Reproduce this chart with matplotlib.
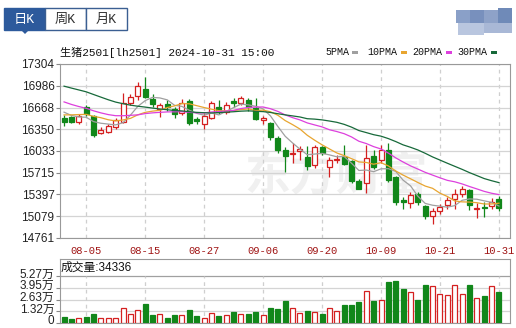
import matplotlib
matplotlib.use("Agg")
import matplotlib.pyplot as plt
from matplotlib.patches import Rectangle, Polygon
from matplotlib.transforms import ScaledTranslation
import numpy as np
import pandas as pd

# daily OHLC for lh2501, 2024-07-31 .. 2024-10-31 (60 sessions)
opens = [16520, 16530, 16460, 16680, 16540, 16300, 16310, 16380, 16460, 16740,
         16830, 16940, 16790, 16640, 16720, 16640, 16590, 16770, 16500, 16420,
         16520, 16680, 16600, 16760, 16740, 16780, 16660, 16490, 16440, 16220,
         16050, 15990, 16030, 15940, 15830, 16090, 15800, 15900, 15940, 15880,
         15600, 15560, 15960, 15900, 16040, 15650, 15310, 15270, 15400, 15230,
         15080, 15150, 15250, 15330, 15410, 15460, 15180, 15220, 15230, 15330]
highs = [16560, 16545, 16580, 16700, 16560, 16380, 16420, 16510, 16880, 16860,
         17040, 17110, 16860, 16740, 16780, 16680, 16790, 16790, 16530, 16590,
         16770, 16780, 16750, 16810, 16840, 16800, 16800, 16550, 16460, 16250,
         16090, 16150, 16100, 16100, 16120, 16110, 15950, 15970, 16120, 15900,
         15620, 16120, 16040, 16120, 16150, 15660, 15360, 15440, 15440, 15240,
         15200, 15260, 15360, 15480, 15520, 15480, 15270, 15280, 15350, 15380]
lows = [16400, 16440, 16420, 16540, 16240, 16280, 16300, 16360, 16440, 16700,
        16780, 16800, 16680, 16530, 16620, 16520, 16560, 16410, 16420, 16360,
        16500, 16580, 16580, 16670, 16700, 16620, 16480, 16420, 16200, 16000,
        15720, 15860, 15900, 15760, 15790, 15980, 15650, 15850, 15830, 15560,
        15470, 15420, 15770, 15850, 15580, 15240, 15180, 15200, 15240, 15040,
        14960, 15110, 15180, 15180, 15360, 15170, 15050, 15070, 15180, 15160]
closes = [16460, 16460, 16540, 16580, 16270, 16340, 16400, 16480, 16740, 16820,
          16980, 16820, 16720, 16700, 16680, 16580, 16740, 16440, 16470, 16550,
          16740, 16600, 16700, 16740, 16810, 16680, 16500, 16510, 16230, 16040,
          15960, 16010, 16060, 15820, 16090, 16010, 15900, 15920, 15840, 15600,
          15480, 15930, 15800, 16050, 15610, 15280, 15290, 15390, 15290, 15080,
          15150, 15220, 15320, 15400, 15470, 15250, 15200, 15200, 15290, 15200]
volumes = [7060, 4150, 5270, 7060, 10100, 5270, 5270, 5270, 16500, 10100,
           14600, 21300, 9000, 10100, 6000, 9000, 9000, 14600, 7850, 6000,
           10900, 7850, 9000, 12000, 9700, 10100, 12000, 9000, 16500, 15300,
           24700, 16500, 10900, 13400, 12700, 10100, 16500, 13400, 20200, 20200,
           23200, 36200, 24700, 25800, 45600, 47100, 38100, 34400, 25800, 42600,
           41500, 32500, 31400, 42600, 32500, 42600, 28400, 30300, 41500, 34336]
# closes before the window, only used so the moving averages start right
earlier_closes = [17300, 17350, 17400, 17450, 17500, 17550, 17500, 17450, 17450, 17450,
                  17200, 17150, 17100, 17000, 16950, 16900, 16800, 16750, 16700, 16850,
                  16450, 16500, 16550, 16560, 16540, 16700, 16650, 16600, 16590]

date_ticks = [3, 11, 19, 27, 35, 43, 51, 59]
date_labels = ["08-05", "08-15", "08-27", "09-06", "09-20", "10-09", "10-21", "10-31"]
price_ticks = [14761, 15079, 15397, 15715, 16033, 16350, 16668, 16986, 17304]
vol_ticks = [0, 13180, 26350, 39530, 52700]
vol_labels = ["0", "1.32万", "2.63万", "3.95万", "5.27万"]
ma_windows = [5, 10, 20, 30]
ma_colors = ["#a0a0a0", "#e8a530", "#dd40dd", "#17693a"]

RED = "#d42020"
GREEN = "#11871a"
W, H = 516, 328
MONO = ["Liberation Mono", "Noto Sans CJK SC"]
SANS = ["Liberation Sans", "Noto Sans CJK SC"]


def px_rect(x0, y0, x1, y1):
    return [x0 / W, 1 - y1 / H, (x1 - x0) / W, (y1 - y0) / H]


fig = plt.figure(figsize=(W / 100, H / 100), dpi=100)
fig.patch.set_facecolor("white")

# header: tabs, title and MA legend drawn in pixel coordinates
bg = fig.add_axes([0, 0, 1, 1])
bg.set_xlim(0, W)
bg.set_ylim(H, 0)
bg.axis("off")
bg.add_patch(Rectangle((4, 8), 41, 22, facecolor="#2d5a9c", edgecolor="#2d5a9c", lw=1))
bg.add_patch(Rectangle((45, 8), 41, 22, facecolor="white", edgecolor="#3b5f92", lw=1))
bg.add_patch(Rectangle((86, 8), 41, 22, facecolor="white", edgecolor="#3b5f92", lw=1))
bg.add_patch(Polygon([(21, 30), (29, 30), (25, 34)], closed=True, facecolor="#2d5a9c", edgecolor="none"))
bg.text(24.5, 19.5, "日K", color="white", fontsize=9.5, ha="center", va="center", family=MONO)
bg.text(65.5, 19.5, "周K", color="#333333", fontsize=9.5, ha="center", va="center", family=MONO)
bg.text(106.5, 19.5, "月K", color="#333333", fontsize=9.5, ha="center", va="center", family=MONO)
# blurred logo block top right
for (x, y, w, h, c) in [(456, 10, 14, 13, "#8aa0c8"), (470, 10, 14, 13, "#7890bd"),
                        (484, 10, 14, 13, "#8ea2c8"), (498, 8, 14, 15, "#6f8ab8"),
                        (458, 23, 26, 12, "#b9c6df"), (484, 23, 28, 10, "#a9b8d6")]:
    bg.add_patch(Rectangle((x, y), w, h, facecolor=c, edgecolor="none"))

bg.text(60, 52, "生猪2501[lh2501] 2024-10-31 15:00", fontsize=8, va="center", family=MONO, color="#111111")
leg_x = [325, 367, 412, 457]
for lx, n, c in zip(leg_x, ma_windows, ma_colors):
    t = "%dPMA" % n
    bg.text(lx, 52, t, fontsize=7.2, va="center", family=MONO, color="#111111")
    rx = lx + len(t) * 6.1 + 3
    bg.add_patch(Rectangle((rx, 50.5), 6, 3, facecolor=c, edgecolor="none"))

# main candlestick panel
ax = fig.add_axes(px_rect(60, 64, 510, 238))
x = np.arange(len(closes))
ax.set_xlim(-0.55, 60.5)
ax.set_ylim(price_ticks[0], price_ticks[-1])
ax.text(24.5, 15640, "东方财富", fontsize=33, color="#f0f0f0", ha="left", va="center",
        family=["Noto Sans CJK SC"], weight="bold", zorder=0)

all_closes = pd.Series(earlier_closes + closes)
for n, c in zip(ma_windows, ma_colors):
    ma = all_closes.rolling(n).mean().values[len(earlier_closes):]
    ax.plot(x, ma, color=c, lw=0.9, zorder=4)

o = np.array(opens)
cl = np.array(closes)
up = cl >= o
colors = np.where(up, RED, GREEN)
ax.vlines(x, lows, highs, colors=colors, lw=0.9, zorder=2)
body_lo = np.minimum(o, cl)
body_h = np.maximum(np.abs(cl - o), 12)
ax.bar(x, body_h, bottom=body_lo, width=0.68, facecolor=np.where(up, "white", GREEN),
       edgecolor=colors, lw=0.9, zorder=3)

ax.set_yticks(price_ticks)
ax.set_yticklabels([str(p) for p in price_ticks], family=SANS, fontsize=8.5, color="#222222")
ax.set_xticks(date_ticks)
ax.set_xticklabels(date_labels, family=MONO, fontsize=7.6, color="#a01515")
ax.tick_params(axis="y", length=3, color="#888888", pad=1)
ax.tick_params(axis="x", length=0, pad=6)
ax.grid(axis="y", color="#d4d4d4", lw=0.9, zorder=1)
ax.grid(axis="x", color="#cfcfcf", lw=0.9, ls=(0, (3, 3)), zorder=1)
ax.set_axisbelow(True)
for s in ax.spines.values():
    s.set_color("#999999")

# volume panel
axv = fig.add_axes(px_rect(60, 259, 510, 323))
axv.set_xlim(-0.55, 60.5)
axv.set_ylim(0, 52700 * 64 / 47)
axv.bar(x, volumes, width=0.68, facecolor=np.where(up, "white", GREEN),
        edgecolor=colors, lw=0.9, zorder=3)
for v in vol_ticks[1:-1]:
    axv.axhline(v, color="#d4d4d4", lw=0.9, zorder=1)
axv.axhline(vol_ticks[-1], color="#a0a0a0", lw=0.9, zorder=1)
for d in date_ticks:
    axv.plot([d, d], [0, vol_ticks[-1]], color="#cfcfcf", lw=0.9, ls=(0, (3, 3)), zorder=1)
axv.set_xticks([])
axv.set_yticks(vol_ticks)
axv.set_yticklabels(vol_labels, family=SANS, fontsize=8.5, color="#222222")
axv.tick_params(axis="y", length=3, color="#888888", pad=1)
shift = ScaledTranslation(0, 0.03, fig.dpi_scale_trans)
for lab in axv.get_yticklabels():
    lab.set_transform(lab.get_transform() + shift)
axv.text(0.002, 0.87, "成交量:" + str(volumes[-1]), transform=axv.transAxes, family=SANS,
         fontsize=8.5, va="center", ha="left", color="#111111")
for s in axv.spines.values():
    s.set_color("#999999")

fig.savefig("out.png", dpi=100)
